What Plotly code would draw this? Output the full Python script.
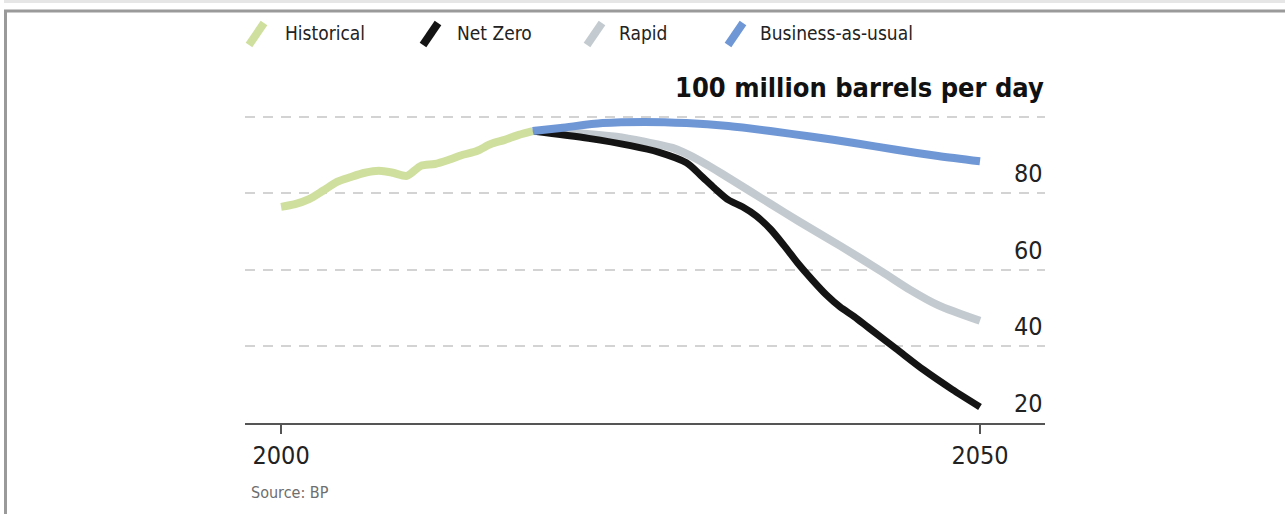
import plotly.graph_objects as go

# ---------------- data ----------------
hist_years = list(range(2000, 2019))
hist_vals = [76.5, 77.2, 78.5, 80.7, 83.0, 84.3, 85.4, 85.9, 85.4, 84.6,
             87.2, 87.7, 88.8, 90.1, 91.1, 92.9, 94.0, 95.3, 96.3]

netzero_years = [2018, 2022, 2025, 2027, 2029, 2030, 2031, 2032, 2033, 2034, 2035,
                 2036, 2037, 2038, 2039, 2040, 2041, 2042, 2044, 2046, 2048, 2050]
netzero_vals = [96.3, 94.4, 92.5, 90.8, 88.0, 84.8, 81.4, 78.3, 76.5, 74.1, 70.7,
                66.3, 61.6, 57.4, 53.5, 50.3, 47.8, 45.0, 39.4, 33.8, 28.8, 24.2]

rapid_years = [2018, 2021, 2024, 2026, 2028, 2030, 2032, 2035, 2037, 2040, 2043, 2045, 2047, 2050]
rapid_vals = [96.3, 95.8, 94.8, 93.5, 91.9, 88.5, 84.1, 77.3, 72.8, 66.3, 59.5, 54.8, 50.8, 46.7]

bau_years = [2018, 2020, 2023, 2026, 2029, 2032, 2035, 2038, 2041, 2044, 2047, 2050]
bau_vals = [96.3, 97.1, 98.4, 98.7, 98.4, 97.6, 96.3, 94.8, 93.2, 91.4, 89.8, 88.4]

x_ticks = [2000, 2050]
x_tick_labels = ["2000", "2050"]
y_grid = [40, 60, 80, 100]
y_labels = [20, 40, 60, 80]

series_names = ["Historical", "Net Zero", "Rapid", "Business-as-usual"]
series_colors = ["#cfdf9e", "#141414", "#c4cbd0", "#6f97d6"]

# ---------------- layout geometry ----------------
W, H = 1285, 514
ML, MR, MT, MB = 245, 240, 115, 91
PW, PH = W - ML - MR, H - MT - MB

def pxx(x):
    return (x - ML) / PW

def pxy(y):
    return (H - MB - y) / PH

FONT = "Liberation Sans Narrow, Arial Narrow, DejaVu Sans Condensed, sans-serif"

fig = go.Figure()

def add_line(xs, ys, color, width):
    fig.add_trace(go.Scatter(
        x=xs, y=ys, mode="lines",
        line=dict(color=color, width=width, shape="spline", smoothing=0.8),
        hoverinfo="skip", showlegend=False,
    ))

add_line(rapid_years, rapid_vals, series_colors[2], 8)
add_line(netzero_years, netzero_vals, series_colors[1], 7)
add_line(bau_years, bau_vals, series_colors[3], 8)
add_line(hist_years, hist_vals, series_colors[0], 8)

shapes = []
annotations = []

# frame
shapes.append(dict(type="rect", xref="paper", yref="paper",
                   x0=pxx(4), x1=pxx(W), y0=pxy(3), y1=pxy(0),
                   fillcolor="#e6e6e6", line=dict(width=0), layer="above"))
shapes.append(dict(type="line", xref="paper", yref="paper",
                   x0=pxx(4), x1=pxx(W), y0=pxy(11), y1=pxy(11),
                   line=dict(color="#9a9a9a", width=3)))
shapes.append(dict(type="line", xref="paper", yref="paper",
                   x0=pxx(5.5), x1=pxx(5.5), y0=pxy(10), y1=pxy(H),
                   line=dict(color="#9a9a9a", width=3)))

# legend
legend_icon_x = [249, 423, 587, 728]
legend_text_x = [283, 455, 617, 758]
for name, color, ix, tx in zip(series_names, series_colors, legend_icon_x, legend_text_x):
    shapes.append(dict(type="line", xref="paper", yref="paper",
                       x0=pxx(ix), x1=pxx(ix + 15), y0=pxy(45), y1=pxy(23),
                       line=dict(color=color, width=8)))
    annotations.append(dict(xref="paper", yref="paper", x=pxx(tx), y=pxy(33),
                            xanchor="left", yanchor="middle", showarrow=False,
                            text=name, font=dict(family=FONT, size=19, color="#222222")))

# title
annotations.append(dict(xref="paper", yref="paper", x=pxx(1046), y=pxy(87),
                        xanchor="right", yanchor="middle", showarrow=False,
                        text="<b>100 million barrels per day</b>",
                        font=dict(family=FONT, size=27, color="#111111")))

# y labels
for v in y_labels:
    annotations.append(dict(xref="paper", yref="y", x=1.0, y=v,
                            xanchor="right", yanchor="bottom", yshift=3, showarrow=False,
                            text=str(v), font=dict(family=FONT, size=25, color="#222222")))

# source
annotations.append(dict(xref="paper", yref="paper", x=pxx(249), y=pxy(492),
                        xanchor="left", yanchor="middle", showarrow=False,
                        text="Source: BP", font=dict(family=FONT, size=16, color="#6e6e6e")))

fig.update_layout(
    width=W, height=H,
    margin=dict(l=ML, r=MR, t=MT, b=MB, pad=0),
    paper_bgcolor="white", plot_bgcolor="white",
    showlegend=False,
    shapes=shapes, annotations=annotations,
    xaxis=dict(range=[1997.42, 2054.65], tickvals=x_ticks, ticktext=x_tick_labels,
               showgrid=False, zeroline=False, showline=True, linecolor="#555555", linewidth=2,
               ticks="outside", ticklen=9, tickwidth=2, tickcolor="#555555",
               tickfont=dict(family=FONT, size=25, color="#222222"), fixedrange=True),
    yaxis=dict(range=[20, 100.5], tickvals=y_grid, showticklabels=False,
               showgrid=True, gridcolor="#d3d3d3", gridwidth=1.5, griddash="10px,8px",
               zeroline=False, showline=False, ticks="", fixedrange=True),
)

fig.write_html("out.html")
